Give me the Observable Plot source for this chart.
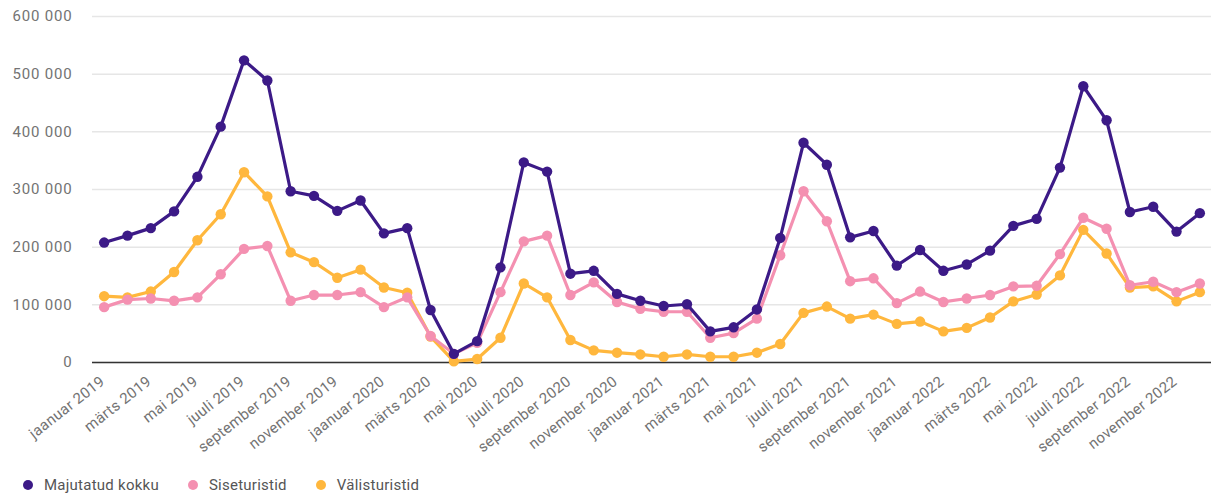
<!DOCTYPE html>
<html>
<head>
<meta charset="utf-8">
<script src="https://cdn.jsdelivr.net/npm/d3@7"></script>
<script src="https://cdn.jsdelivr.net/npm/@observablehq/plot@0.6"></script>
<style>
  html, body { margin: 0; padding: 0; background: #fff; }
  body { width: 1213px; height: 493px; overflow: hidden; font-family: Roboto, sans-serif; }
  #legend { display: flex; align-items: center; margin-left: 23px; margin-top: 18px; font-size: 15px; letter-spacing: 0.25px; color: #555; }
  #legend .item { display: flex; align-items: center; margin-right: 29px; }
  #legend .dot { width: 10px; height: 10px; border-radius: 50%; margin-right: 11px; }
  svg g[aria-label="y-axis tick label"] text { letter-spacing: 0.8px; }
  svg g[aria-label="x-axis tick label"] text { letter-spacing: 0.3px; }
</style>
</head>
<body>
<div id="chart"></div>
<div id="legend"></div>
<script>
const monthNames = ["jaanuar","veebruar","märts","aprill","mai","juuni","juuli","august","september","oktoober","november","detsember"];
const years = [2019, 2020, 2021, 2022];
const months = years.flatMap(y => monthNames.map(m => `${m} ${y}`));

const seriesNames = ["Majutatud kokku", "Siseturistid", "Välisturistid"];
const seriesColors = ["#3c1a87", "#f490b1", "#ffb73d"];

const majutatud = [
  208000, 220000, 233000, 262000, 322000, 409000, 524000, 489000, 297000, 289000, 263000, 281000,
  224000, 233000, 91000, 15000, 37000, 165000, 347000, 331000, 154000, 159000, 119000, 107000,
  98000, 101000, 54000, 61000, 92000, 216000, 381000, 343000, 217000, 228000, 168000, 195000,
  159000, 170000, 194000, 237000, 249000, 338000, 479000, 420000, 261000, 270000, 227000, 259000
];
const siseturistid = [
  96000, 109000, 111000, 107000, 113000, 153000, 197000, 202000, 107000, 117000, 117000, 122000,
  96000, 113000, 46000, 15000, 34000, 122000, 210000, 220000, 117000, 139000, 105000, 93000,
  88000, 88000, 43000, 51000, 76000, 186000, 297000, 245000, 141000, 146000, 103000, 123000,
  105000, 111000, 117000, 132000, 133000, 188000, 251000, 232000, 134000, 140000, 122000, 137000
];
const valisturistid = [
  115000, 113000, 123000, 157000, 212000, 257000, 330000, 288000, 191000, 174000, 147000, 161000,
  130000, 121000, 45000, 2000, 6000, 43000, 137000, 113000, 39000, 21000, 17000, 14000,
  10000, 14000, 10000, 10000, 17000, 32000, 86000, 97000, 76000, 83000, 67000, 71000,
  54000, 60000, 78000, 106000, 118000, 151000, 230000, 189000, 130000, 132000, 106000, 122000
];
const yTicks = [0, 100000, 200000, 300000, 400000, 500000, 600000];

const allSeries = [majutatud, siseturistid, valisturistid];
const data = [];
allSeries.forEach((vals, s) => {
  vals.forEach((v, i) => data.push({month: months[i], value: v, series: seriesNames[s]}));
});
// draw order: yellow first, then pink, then purple on top
const drawOrder = ["Välisturistid", "Siseturistid", "Majutatud kokku"];

const fmt = v => d3.format(",")(v).replace(/,/g, " ");

const marks = [
  Plot.gridY(yTicks, {stroke: "#e6e6e6", strokeOpacity: 1, strokeWidth: 1.5}),
  Plot.axisY(yTicks, {tickSize: 0, tickPadding: 20, tickFormat: fmt, fill: "#737373", fontSize: 15}),
  Plot.axisX(months.filter((_, i) => i % 2 === 0), {tickSize: 0, tickPadding: 17, dx: -1.5, tickRotate: -38, fill: "#737373", fontSize: 15}),
  Plot.ruleY([0], {stroke: "#333", strokeWidth: 1.5})
];
for (const name of drawOrder) {
  const d = data.filter(r => r.series === name);
  const c = seriesColors[seriesNames.indexOf(name)];
  marks.push(Plot.line(d, {x: "month", y: "value", stroke: c, strokeWidth: 3.2}));
  marks.push(Plot.dot(d, {x: "month", y: "value", fill: c, r: 5.2}));
}

const chart = Plot.plot({
  width: 1213,
  height: 458,
  marginTop: 16,
  marginBottom: 96,
  marginLeft: 92,
  marginRight: 2,
  style: {fontFamily: "Roboto, sans-serif", background: "#fff", overflow: "visible"},
  x: {type: "point", domain: months, padding: 0.5, round: false, label: null},
  y: {domain: [0, 600000], label: null},
  marks
});
document.getElementById("chart").appendChild(chart);

const legend = document.getElementById("legend");
seriesNames.forEach((n, i) => {
  const it = document.createElement("div");
  it.className = "item";
  const dot = document.createElement("span");
  dot.className = "dot";
  dot.style.background = seriesColors[i];
  const t = document.createElement("span");
  t.textContent = n;
  it.appendChild(dot);
  it.appendChild(t);
  legend.appendChild(it);
});
</script>
</body>
</html>
